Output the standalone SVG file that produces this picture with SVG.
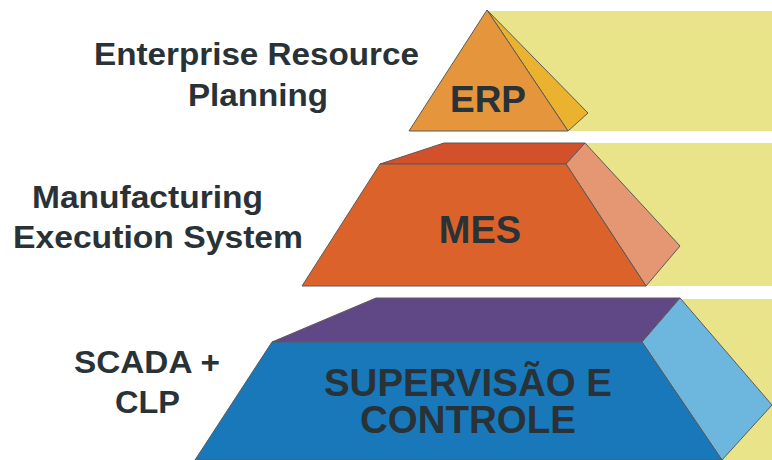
<svg xmlns="http://www.w3.org/2000/svg" width="772" height="460" viewBox="0 0 772 460">
<style>
.band{fill:#E9E48A}
.edge{stroke:#5a5a5a;stroke-width:1;stroke-linejoin:round}
.lbl{font-family:"Liberation Sans",Arial,sans-serif;font-weight:bold;fill:#283237}
.side{font-size:31px}
.big{text-anchor:middle}
</style>
<rect width="772" height="460" fill="#ffffff"/>
<g id="bands">
<rect class="band" x="487" y="11" width="285" height="120"/>
<rect class="band" x="585" y="143" width="187" height="143"/>
<rect class="band" x="680" y="299" width="92" height="161"/>
</g>
<g id="erp">
<polygon class="edge" fill="#EBB22F" points="487,10 588,113 568,131"/>
<polygon class="edge" fill="#E5963D" points="487,10 568,131 409,131"/>
<text class="lbl big" x="488" y="112" font-size="37">ERP</text>
</g>
<g id="mes">
<polygon class="edge" fill="#D2502A" points="380,164 444,143 585,143 566,164"/>
<polygon class="edge" fill="#E59672" points="566,164 585,143 680,246 646,286"/>
<polygon class="edge" fill="#DB622B" points="380,164 566,164 646,286 302,286"/>
<text class="lbl big" x="480" y="243" font-size="38">MES</text>
</g>
<g id="scada">
<polygon class="edge" fill="#604887" points="272,342 376,298 680,298 642,342"/>
<polygon class="edge" fill="#6DB7DE" points="642,342 680,298 772,405 722,460"/>
<polygon class="edge" fill="#1878BA" points="272,342 642,342 722,460 195,460"/>
<text class="lbl big" x="468" y="396" font-size="38.5">SUPERVISÃO E</text>
<text class="lbl big" x="468" y="433" font-size="38.5">CONTROLE</text>
</g>
<g id="labels">
<text class="lbl side" x="94" y="65" textLength="325" lengthAdjust="spacingAndGlyphs">Enterprise Resource</text>
<text class="lbl side" x="188" y="106" textLength="140" lengthAdjust="spacingAndGlyphs">Planning</text>
<text class="lbl side" x="32" y="208" textLength="231" lengthAdjust="spacingAndGlyphs">Manufacturing</text>
<text class="lbl side" x="13" y="248" textLength="290" lengthAdjust="spacingAndGlyphs">Execution System</text>
<text class="lbl side" x="74" y="373" textLength="146" lengthAdjust="spacingAndGlyphs">SCADA +</text>
<text class="lbl side" x="115" y="413" textLength="65" lengthAdjust="spacingAndGlyphs">CLP</text>
</g>
<g id="connectors"/>
</svg>
